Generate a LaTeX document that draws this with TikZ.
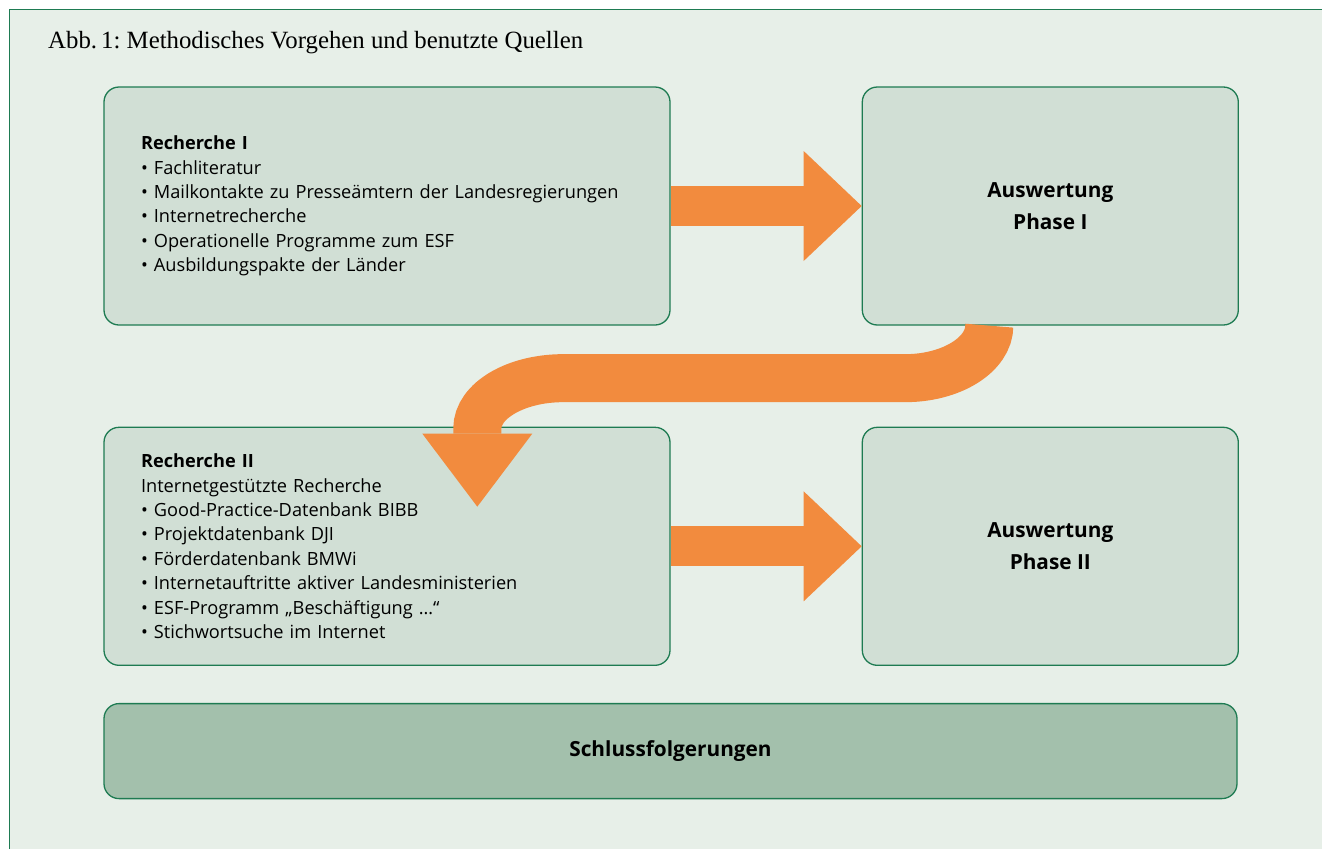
\documentclass[tikz,border=0pt]{standalone}
\usepackage{fontspec}
\setmainfont{Liberation Serif}
\newfontfamily\boxfont{Open Sans}
\definecolor{bggreen}{HTML}{E7EFE8}
\definecolor{boxgreen}{HTML}{D1DFD5}
\definecolor{darkboxgreen}{HTML}{A3C0AC}
\definecolor{linegreen}{HTML}{1E7B52}
\definecolor{arroworange}{HTML}{F28B3E}
\usetikzlibrary{positioning,arrows.meta,calc}
\frenchspacing

\begin{document}
\begin{tikzpicture}[x=1pt,y=-1pt,
    every node/.style={inner sep=0pt},
    box/.style={draw=linegreen,line width=1.3pt,fill=boxgreen,rounded corners=15pt},
    srcbox/.style={box,minimum width=566pt,minimum height=238pt,text width=492pt,
        inner xsep=37pt,align=left,font=\boxfont\fontsize{18.2}{24.4}\selectfont},
    evalbox/.style={box,minimum width=376pt,minimum height=238pt,align=center,
        font=\boxfont\bfseries\fontsize{20.8}{32}\selectfont},
    endbox/.style={box,fill=darkboxgreen,minimum width=1133pt,minimum height=95pt,
        font=\boxfont\bfseries\fontsize{20.8}{32}\selectfont},
    bigarrow/.style={draw=arroworange,line width=40pt,
        -{Triangle[length=58pt,width=110pt,line width=0pt]}},
    bendarrow/.style={bigarrow,line width=48pt,
        -{Triangle[length=73pt,width=110pt,line width=0pt]}},
    node distance=191pt
    ]
    \useasboundingbox (0,0) rectangle (1322,849);
    \fill[white] (0,0) rectangle (1322,849);
    \fill[bggreen] (9.5,9.5) rectangle (1322,849);
    \draw[linegreen,line width=1.6pt] (9.5,849) -- (9.5,9.5) -- (1322,9.5);

    \node (title) [anchor=west,font=\fontsize{24.8}{28}\selectfont] at (48,43)
        {Abb.\,1: Methodisches Vorgehen und benutzte Quellen};

    \node (r1) [srcbox] at (387,206) {{\bfseries Recherche I}\\
        • Fachliteratur\\
        • Mailkontakte zu Presseämtern der Landesregierungen\\
        • Internetrecherche\\
        • Operationelle Programme zum ESF\\
        • Ausbildungspakte der Länder};
    \node (a1) [evalbox,right=of r1] {Auswertung\\Phase I};
    \node (r2) [srcbox,below=101pt of r1] {{\bfseries Recherche II}\\
        Internetgestützte Recherche\\
        • Good-Practice-Datenbank BIBB\\
        • Projektdatenbank DJI\\
        • Förderdatenbank BMWi\\
        • Internetauftritte aktiver Landesministerien\\
        • ESF-Programm „Beschäftigung …“\\
        • Stichwortsuche im Internet};
    \node (a2) [evalbox,right=of r2] {Auswertung\\Phase II};
    \node (concl) [endbox,below=37pt of r2.south west,anchor=north west] {Schlussfolgerungen};

    % the arrows
    \draw[bigarrow] (r1) -- (a1);
    \draw[bigarrow] (r2) -- (a2);
    \draw[bendarrow] ([xshift=-61pt]a1.south)
        .. controls +(0,29) and +(46,0) .. ++(-84,52.5)
        -- ++(-342,0)
        .. controls +(-47.5,0) and +(0,-28) .. ++(-86,50.5)
        -- ++(0,78);
\end{tikzpicture}
\end{document}
